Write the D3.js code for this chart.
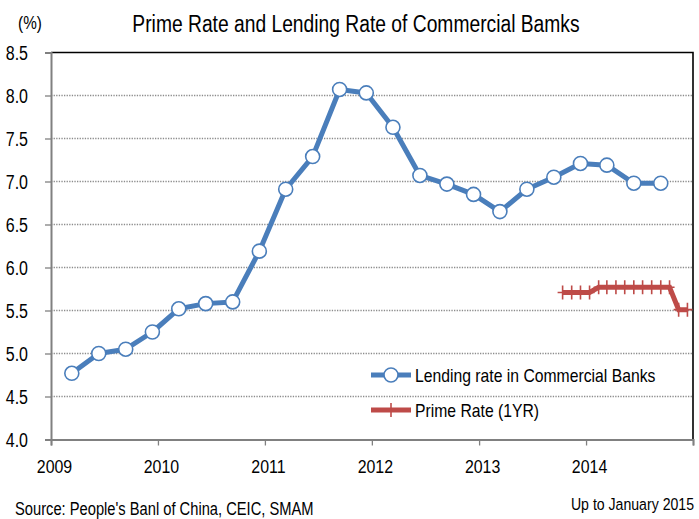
<!DOCTYPE html>
<html>
<head>
<meta charset="utf-8">
<script src="https://cdn.jsdelivr.net/npm/d3@7"></script>
<style>
  html, body { margin: 0; padding: 0; background: #fff; }
  svg text { font-family: "Liberation Sans", Arial, sans-serif; fill: #000; }
</style>
</head>
<body>
<div id="chart"></div>
<script>
const lendingMonths = ['2009-03', '2009-06', '2009-09', '2009-12', '2010-03', '2010-06', '2010-09', '2010-12',
  '2011-03', '2011-06', '2011-09', '2011-12', '2012-03', '2012-06', '2012-09', '2012-12',
  '2013-03', '2013-06', '2013-09', '2013-12', '2014-03', '2014-06', '2014-09'];
const lendingRate = [4.77, 5.00, 5.05, 5.25, 5.52, 5.58, 5.60, 6.19,
  6.91, 7.29, 8.07, 8.03, 7.63, 7.07, 6.97, 6.85,
  6.65, 6.91, 7.05, 7.21, 7.19, 6.98, 6.98];

const primeMonths = ['2013-10', '2013-11', '2013-12', '2014-01', '2014-02', '2014-03', '2014-04', '2014-05',
  '2014-06', '2014-07', '2014-08', '2014-09', '2014-10', '2014-11', '2014-12'];
const primeRate = [5.71, 5.71, 5.71, 5.71, 5.77, 5.77, 5.77, 5.77,
  5.77, 5.77, 5.77, 5.77, 5.77, 5.51, 5.51];

const yTicks = [4.0, 4.5, 5.0, 5.5, 6.0, 6.5, 7.0, 7.5, 8.0, 8.5];
const yearTicks = ['2009', '2010', '2011', '2012', '2013', '2014'];

const title = 'Prime Rate and Lending Rate of Commercial Bamks';
const seriesNames = ['Lending rate in Commercial Banks', 'Prime Rate (1YR)'];
const sourceNote = "Source:  People's Banl of China, CEIC, SMAM";
const rangeNote = 'Up to  January  2015';

const width = 699;
const height = 519;
const margin = { top: 52.5, right: 6, bottom: 79.5, left: 51 };
const blue = '#4a7ebb';
const red = '#be4b48';

const parseMonth = d3.timeParse('%Y-%m');
const parseYear = d3.timeParse('%Y');

const x = d3.scaleTime()
  .domain([parseYear('2009'), parseYear('2015')])
  .range([margin.left, width - margin.right]);
const y = d3.scaleLinear()
  .domain([4, 8.5])
  .range([height - margin.bottom, margin.top]);

// points sit a little after the start of the month
const xm = m => x(d3.timeDay.offset(parseMonth(m), 12));

// the original uses a narrow face; squeeze the text to its width
function narrow(sel, ratio) {
  sel.each(function () {
    const w = this.getComputedTextLength();
    d3.select(this).attr('textLength', w * ratio).attr('lengthAdjust', 'spacingAndGlyphs');
  });
}

const svg = d3.select('#chart').append('svg')
  .attr('width', width)
  .attr('height', height);

// gridlines
svg.append('g')
  .selectAll('line')
  .data(yTicks.slice(1, -1))
  .enter().append('line')
  .attr('x1', margin.left)
  .attr('x2', width - margin.right)
  .attr('y1', d => y(d))
  .attr('y2', d => y(d))
  .attr('stroke', '#8c8c8c')
  .attr('stroke-width', 1.3)
  .attr('stroke-dasharray', '1.3,1.3');

// plot border (top / right)
svg.append('path')
  .attr('d', `M${margin.left},${y(8.5)}H${x(parseYear('2015'))}V${y(4)}`)
  .attr('fill', 'none')
  .attr('stroke', '#000')
  .attr('stroke-width', 1.6);

// y axis
const yAxis = svg.append('g')
  .attr('transform', `translate(${margin.left},0)`)
  .call(d3.axisLeft(y).tickValues(yTicks).tickSize(6).tickPadding(17).tickFormat(d3.format('.1f')));
yAxis.select('.domain').attr('stroke', '#808080').attr('stroke-width', 2);
yAxis.selectAll('.tick line').attr('stroke', '#808080').attr('stroke-width', 1.3);
yAxis.selectAll('.tick text').style('font-size', '19.5px').attr('dy', '0.36em').call(narrow, 0.82);

// x axis
const xAxis = svg.append('g')
  .attr('transform', `translate(0,${y(4)})`)
  .call(d3.axisBottom(x)
    .tickValues(yearTicks.concat(['2015']).map(parseYear))
    .tickSize(6)
    .tickPadding(14)
    .tickFormat(d => (d.getFullYear() < 2015 ? d3.timeFormat('%Y')(d) : '')));
xAxis.select('.domain').attr('stroke', '#808080').attr('stroke-width', 2);
xAxis.selectAll('.tick text').style('font-size', '18.5px').attr('dx', '3px').call(narrow, 0.86);
xAxis.selectAll('.tick line').attr('stroke', '#808080').attr('stroke-width', 1.3);

// lending rate
const lending = lendingMonths.map((m, i) => ({ m, v: lendingRate[i] }));
svg.append('path')
  .datum(lending)
  .attr('fill', 'none')
  .attr('stroke', blue)
  .attr('stroke-width', 5)
  .attr('stroke-linejoin', 'round')
  .attr('d', d3.line().x(d => xm(d.m)).y(d => y(d.v)));
svg.append('g')
  .selectAll('circle')
  .data(lending)
  .enter().append('circle')
  .attr('cx', d => xm(d.m))
  .attr('cy', d => y(d.v))
  .attr('r', 7)
  .attr('fill', '#fff')
  .attr('stroke', blue)
  .attr('stroke-width', 1.6);

// prime rate
const prime = primeMonths.map((m, i) => ({ m, v: primeRate[i] }));
svg.append('path')
  .datum(prime)
  .attr('fill', 'none')
  .attr('stroke', red)
  .attr('stroke-width', 5)
  .attr('d', d3.line().x(d => xm(d.m)).y(d => y(d.v)));
svg.append('g')
  .selectAll('path')
  .data(prime)
  .enter().append('path')
  .attr('d', d => `M${xm(d.m) - 5},${y(d.v)}H${xm(d.m) + 5}M${xm(d.m)},${y(d.v) - 7}V${y(d.v) + 7}`)
  .attr('stroke', red)
  .attr('stroke-width', 1.6);

// legend
const legend = svg.append('g');
const legendRows = [375, 410];
legend.append('line')
  .attr('x1', 371).attr('x2', 411).attr('y1', legendRows[0]).attr('y2', legendRows[0])
  .attr('stroke', blue).attr('stroke-width', 5);
legend.append('circle')
  .attr('cx', 391).attr('cy', legendRows[0]).attr('r', 7)
  .attr('fill', '#fff').attr('stroke', blue).attr('stroke-width', 1.6);
legend.append('line')
  .attr('x1', 371).attr('x2', 411).attr('y1', legendRows[1]).attr('y2', legendRows[1])
  .attr('stroke', red).attr('stroke-width', 5);
legend.append('path')
  .attr('d', `M391,${legendRows[1] - 7}V${legendRows[1] + 7}`)
  .attr('stroke', red).attr('stroke-width', 1.6);
legend.selectAll('text')
  .data(seriesNames)
  .enter().append('text')
  .attr('x', 415)
  .attr('y', (d, i) => legendRows[i])
  .attr('dy', '0.36em')
  .style('font-size', '18.5px')
  .text(d => d)
  .call(narrow, 0.85);

// titles and notes
svg.append('text')
  .attr('x', 356).attr('y', 24).attr('dy', '0.36em')
  .attr('text-anchor', 'middle')
  .style('font-size', '23px')
  .text(title)
  .call(narrow, 0.837);
svg.append('text')
  .attr('x', 30).attr('y', 23).attr('dy', '0.36em')
  .attr('text-anchor', 'middle')
  .style('font-size', '18px')
  .text('(%)')
  .call(narrow, 0.85);
svg.append('text')
  .attr('x', 15).attr('y', 509).attr('dy', '0.36em')
  .style('font-size', '17.5px')
  .text(sourceNote)
  .call(narrow, 0.84);
// squeezed with a transform so its box stays inside the frame
svg.append('text')
  .attr('transform', 'translate(694,504) scale(0.83,1)')
  .attr('dy', '0.36em')
  .attr('text-anchor', 'end')
  .style('font-size', '17px')
  .text(rangeNote);
</script>
</body>
</html>
